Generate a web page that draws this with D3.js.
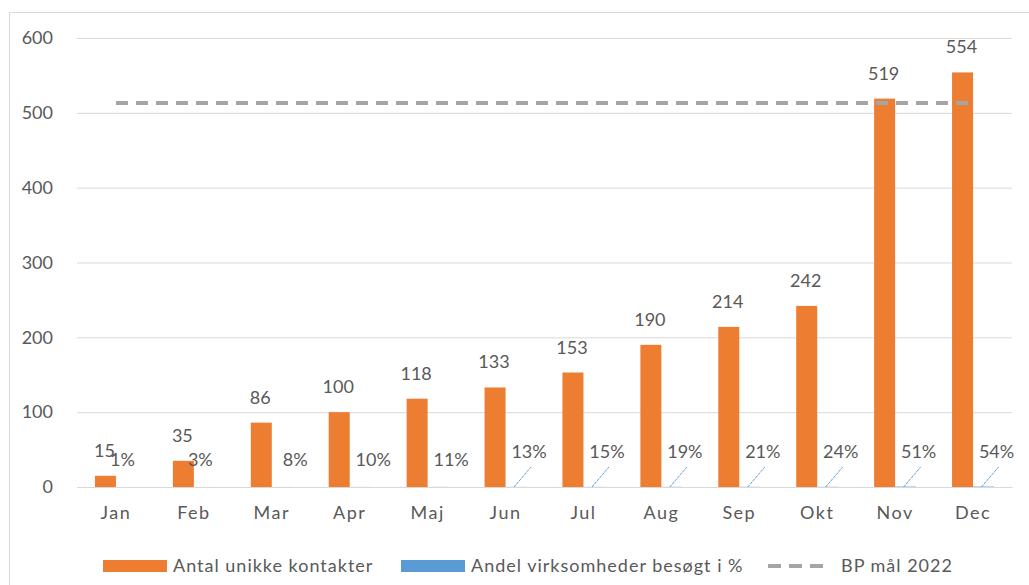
<!DOCTYPE html>
<html>
<head>
<meta charset="utf-8">
<script src="https://cdn.jsdelivr.net/npm/d3@7"></script>
<style>
  body { margin: 0; background: #fff; }
  svg { font-family: Lato, "Open Sans", sans-serif; }
</style>
</head>
<body>
<div id="chart"></div>
<script>
// Data
const months = ["Jan", "Feb", "Mar", "Apr", "Maj", "Jun", "Jul", "Aug", "Sep", "Okt", "Nov", "Dec"];
const contacts = [15, 35, 86, 100, 118, 133, 153, 190, 214, 242, 519, 554];
const sharePct = [1, 3, 8, 10, 11, 13, 15, 19, 21, 24, 51, 54];
const goal = 513;
const yTicks = [0, 100, 200, 300, 400, 500, 600];
const seriesNames = ["Antal unikke kontakter", "Andel virksomheder besøgt i %", "BP mål 2022"];

const W = 1029, H = 585;
const textColor = "#595959";
const orange = "#ED7D31", blue = "#5B9BD5", grey = "#A5A5A5", grid = "#D9D9D9";

const svg = d3.select("#chart").append("svg")
    .attr("width", W)
    .attr("height", H);

// chart border (runs past right and bottom edge like the screenshot)
svg.append("rect")
    .attr("x", 9.5).attr("y", 12.5)
    .attr("width", 1040).attr("height", 600)
    .attr("fill", "none")
    .attr("stroke", grid);

const x0 = d3.scaleBand()
    .domain(months)
    .range([77, 1012])
    .padding(0);

const barW = 21;
const x1 = d3.scaleBand()
    .domain(["contacts", "share"])
    .range([x0.bandwidth() / 2 - barW, x0.bandwidth() / 2 + barW]);

const y = d3.scaleLinear()
    .domain([0, 600])
    .range([487, 38]);

// gridlines + y labels
const yAxis = svg.append("g")
    .attr("transform", "translate(77,0)")
    .call(d3.axisLeft(y).tickValues(yTicks).tickSize(-(1012 - 77)).tickPadding(24));
yAxis.select(".domain").remove();
yAxis.selectAll(".tick line").attr("stroke", grid);
yAxis.selectAll(".tick text")
    .attr("fill", textColor)
    .style("font-size", "18px")
    .style("font-family", "Lato, sans-serif");

// x labels
const xAxis = svg.append("g")
    .attr("transform", "translate(0,487)")
    .call(d3.axisBottom(x0).tickSize(0).tickPadding(19));
xAxis.select(".domain").attr("stroke", grid);
xAxis.selectAll(".tick text")
    .attr("fill", textColor)
    .style("font-size", "18px")
    .style("letter-spacing", "1.5px")
    .style("font-family", "Lato, sans-serif");

const groups = svg.selectAll(".month")
    .data(months)
    .enter().append("g")
    .attr("class", "month")
    .attr("transform", d => `translate(${x0(d)},0)`);

// orange bars
groups.append("rect")
    .attr("x", x1("contacts"))
    .attr("y", (d, i) => y(contacts[i]))
    .attr("width", x1.bandwidth())
    .attr("height", (d, i) => y(0) - y(contacts[i]))
    .attr("fill", orange);

// blue bars (share as a fraction -> practically invisible on this axis)
groups.append("rect")
    .attr("x", x1("share"))
    .attr("y", (d, i) => y(sharePct[i] / 100))
    .attr("width", x1.bandwidth())
    .attr("height", (d, i) => y(0) - y(sharePct[i] / 100))
    .attr("fill", blue);

// value labels on orange bars
groups.append("text")
    .attr("x", x1("contacts") + x1.bandwidth() / 2 - 1)
    .attr("y", (d, i) => y(contacts[i]) - 19)
    .attr("text-anchor", "middle")
    .attr("fill", textColor)
    .style("font-size", "18px")
    .text((d, i) => contacts[i]);

// percent labels, dragged off the bar in the original; later ones have leader lines
const blueCenter = x1("share") + x1.bandwidth() / 2;
groups.filter((d, i) => i >= 5).append("line")
    .attr("x1", blueCenter - 2)
    .attr("y1", y(0))
    .attr("x2", blueCenter + 15)
    .attr("y2", y(0) - 20)
    .attr("stroke", blue)
    .attr("stroke-width", 1)
    .attr("stroke-dasharray", "3,1");

groups.append("text")
    .attr("x", (d, i) => blueCenter + (i < 2 ? -4 : 13))
    .attr("y", (d, i) => i < 5 ? 466 : 458)
    .attr("text-anchor", "middle")
    .attr("fill", textColor)
    .style("font-size", "18px")
    .text((d, i) => sharePct[i] + "%");

// goal line
const line = d3.line()
    .x(d => x0(d) + x0.bandwidth() / 2)
    .y(() => y(goal));

svg.append("path")
    .datum(months)
    .attr("d", line)
    .attr("fill", "none")
    .attr("stroke", grey)
    .attr("stroke-width", 4)
    .attr("stroke-dasharray", "12,8");

// legend
const legend = svg.append("g").attr("transform", "translate(0,566)");
const legendX = [103, 401, 768];
const textX = [173, 471, 841];

legend.append("rect").attr("x", legendX[0]).attr("y", -6).attr("width", 64).attr("height", 12).attr("fill", orange);
legend.append("rect").attr("x", legendX[1]).attr("y", -6).attr("width", 64).attr("height", 12).attr("fill", blue);
legend.append("line")
    .attr("x1", legendX[2]).attr("x2", legendX[2] + 60)
    .attr("y1", 0).attr("y2", 0)
    .attr("stroke", grey).attr("stroke-width", 4)
    .attr("stroke-dasharray", "13,8");

legend.selectAll(".ltext")
    .data(seriesNames)
    .enter().append("text")
    .attr("class", "ltext")
    .attr("x", (d, i) => textX[i])
    .attr("y", 6)
    .attr("fill", textColor)
    .style("font-size", "18px")
    .style("letter-spacing", "1px")
    .text(d => d);
</script>
</body>
</html>
